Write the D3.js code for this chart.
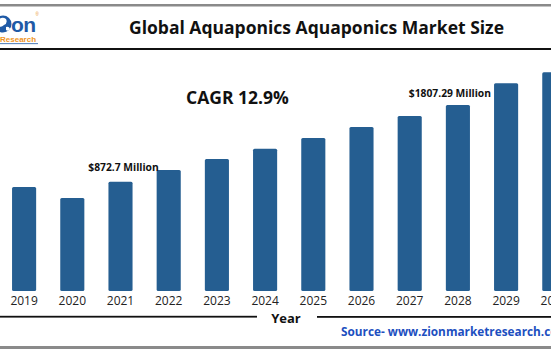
<!DOCTYPE html>
<html>
<head>
<meta charset="utf-8">
<script src="https://cdn.jsdelivr.net/npm/d3@7"></script>
<style>
  body { margin: 0; background: #fff; }
  svg { display: block; }
</style>
</head>
<body>
<div id="app"></div>
<script>
`use strict`;

// values (USD million)
const years = [`2019`, `2020`, `2021`, `2022`, `2023`, `2024`, `2025`, `2026`, `2027`, `2028`, `2029`, `2030`];
const values = [808, 674, 872.7, 1015, 1149, 1275, 1405, 1539, 1673, 1807.29, 2072, 2206];
const callouts = [[`2021`, `$872.7 Million`], [`2028`, `$1807.29 Million`]];
const yDomain = [-459, 2206];

const W = 551, H = 353;
const baseY = 291, topY = 72.3;

const SVG = d3.select(`#app`).append(`svg`).attr(`width`, W).attr(`height`, H);

const x = d3.scaleBand().domain(years).range([0, 578.4]).paddingInner(0.5).paddingOuter(0.25);
const y = d3.scaleLinear().domain(yDomain).range([baseY, topY]);

// frame lines
SVG.append(`rect`).attr(`x`, 0).attr(`y`, 4).attr(`width`, W).attr(`height`, 2.5).attr(`fill`, `#8a8a8a`);
SVG.append(`rect`).attr(`x`, 0).attr(`y`, 48).attr(`width`, W).attr(`height`, 2).attr(`fill`, `#111`);
SVG.append(`rect`).attr(`x`, 0).attr(`y`, 346).attr(`width`, W).attr(`height`, 3).attr(`fill`, `#8a8a8a`);

// logo (cut off on the left)
const logo = SVG.append(`g`);
logo.append(`circle`).attr(`cx`, 3).attr(`cy`, 24).attr(`r`, 8.5).attr(`fill`, `#1f5aa6`);
logo.append(`path`).attr(`d`, `M-2 20 q4 -4 8 -1 q2 4 -2 6 q-3 3 -5 1 z M6 27 q3 -1 4 2 q-2 3 -4 1 z`).attr(`fill`, `#fff`);
logo.append(`text`).attr(`x`, 11).attr(`y`, 32).attr(`font-family`, `Arial, sans-serif`).attr(`font-weight`, 700)
  .attr(`font-size`, `21px`).attr(`fill`, `#1f5aa6`).attr(`letter-spacing`, `-0.5px`).text(`on`);
logo.append(`text`).attr(`x`, 35.5).attr(`y`, 15.5).attr(`font-family`, `Arial, sans-serif`).attr(`font-size`, `4.5px`).attr(`fill`, `#e9952a`).text(`®`);
logo.append(`text`).attr(`x`, 0).attr(`y`, 42).attr(`font-family`, `Arial, sans-serif`).attr(`font-weight`, 700)
  .attr(`font-size`, `8px`).attr(`fill`, `#ef9424`).text(`Research`);
logo.append(`rect`).attr(`x`, 0).attr(`y`, 43.3).attr(`width`, 38).attr(`height`, 0.8).attr(`fill`, `#1f5aa6`);

// title
SVG.append(`text`).attr(`x`, 316.5).attr(`y`, 33.5).attr(`text-anchor`, `middle`)
  .attr(`font-family`, `"Open Sans", sans-serif`).attr(`font-weight`, 700).attr(`font-size`, `17.5px`).attr(`fill`, `#111`)
  .text(`Global Aquaponics Aquaponics Market Size`);

// bars
SVG.append(`g`).selectAll(`rect`).data(years).enter().append(`rect`)
  .attr(`x`, d => x(d))
  .attr(`y`, (d, i) => y(values[i]))
  .attr(`width`, x.bandwidth())
  .attr(`height`, (d, i) => baseY - y(values[i]))
  .attr(`rx`, 1.5)
  .attr(`fill`, `#255e91`);

// x axis labels
const xAxis = SVG.append(`g`).attr(`transform`, `translate(0,${baseY})`)
  .call(d3.axisBottom(x).tickSize(0).tickPadding(5));
xAxis.select(`.domain`).remove();
xAxis.selectAll(`text`).attr(`font-family`, `"Open Sans", sans-serif`).attr(`font-size`, `12px`).attr(`fill`, `#222`);

// axis title rule
SVG.append(`rect`).attr(`x`, 0).attr(`y`, 315.8).attr(`width`, 257).attr(`height`, 1.8).attr(`fill`, `#111`);
SVG.append(`rect`).attr(`x`, 317).attr(`y`, 316).attr(`width`, 234).attr(`height`, 1.8).attr(`fill`, `#111`);
SVG.append(`text`).attr(`x`, 286).attr(`y`, 322.5).attr(`text-anchor`, `middle`)
  .attr(`font-family`, `"Open Sans", sans-serif`).attr(`font-weight`, 700).attr(`font-size`, `13px`).attr(`fill`, `#111`).text(`Year`);

// CAGR
SVG.append(`text`).attr(`x`, 186).attr(`y`, 103.5)
  .attr(`font-family`, `"Open Sans", sans-serif`).attr(`font-weight`, 700).attr(`font-size`, `17.5px`).attr(`fill`, `#111`)
  .text(`CAGR 12.9%`);

// value callouts
const calloutShift = [3, -8];
SVG.append(`g`).selectAll(`text`).data(callouts).enter().append(`text`)
  .attr(`x`, (d, i) => x(d[0]) + x.bandwidth() / 2 + calloutShift[i])
  .attr(`y`, (d, i) => y(values[years.indexOf(d[0])]) - (i ? 8.5 : 10.7))
  .attr(`text-anchor`, `middle`)
  .attr(`font-family`, `"Open Sans", sans-serif`).attr(`font-weight`, 700).attr(`font-size`, `10.3px`).attr(`fill`, `#111`)
  .text(d => d[1]);

// source (runs off the right edge, as in the original)
SVG.append(`text`).attr(`x`, 341).attr(`y`, 335.5)
  .attr(`font-family`, `"Open Sans", sans-serif`).attr(`font-weight`, 700).attr(`font-size`, `11.8px`).attr(`fill`, `#1d4fbf`)
  .text(`Source- www.zionmarketresearch.com`);
</script>
</body>
</html>
